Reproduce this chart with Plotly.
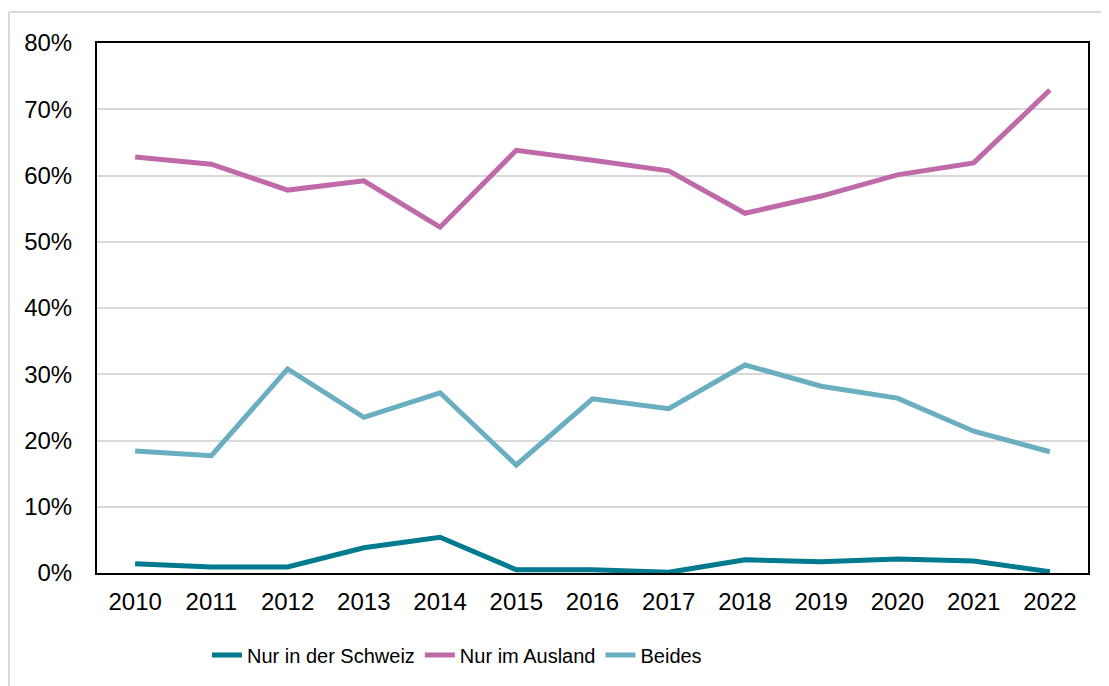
import plotly.graph_objects as go

years = [2010, 2011, 2012, 2013, 2014, 2015, 2016, 2017, 2018, 2019, 2020, 2021, 2022]
nur_schweiz = [1.4, 0.9, 0.9, 3.8, 5.4, 0.5, 0.5, 0.1, 2.0, 1.7, 2.1, 1.8, 0.2]
nur_ausland = [62.8, 61.7, 57.8, 59.2, 52.2, 63.8, 62.3, 60.7, 54.3, 56.9, 60.1, 61.9, 72.9]
beides = [18.4, 17.7, 30.8, 23.5, 27.2, 16.3, 26.3, 24.8, 31.4, 28.2, 26.4, 21.4, 18.3]
y_ticks = [0, 10, 20, 30, 40, 50, 60, 70, 80]
y_tick_labels = [f"{v}%" for v in y_ticks]

series = [
    ("Nur in der Schweiz", nur_schweiz, "#007A8F"),
    ("Nur im Ausland", nur_ausland, "#BF69A9"),
    ("Beides", beides, "#6AAFC1"),
]

fig = go.Figure()
for name, vals, col in series:
    fig.add_trace(go.Scatter(x=years, y=vals, name=name, mode="lines",
                             line=dict(color=col, width=5), cliponaxis=False))

# page is offset by the default 8px body margin
OFF = 8
W, H = 1109, 686
L, T = 97 - OFF, 43 - OFF
R = W - (1088 - OFF)
B = H - (573 - OFF)
pw, ph = W - L - R, H - T - B

def px_x(x):
    return (x - OFF - L) / pw

def px_y(y):
    return (H - B - (y - OFF)) / ph

fig.update_layout(
    width=W, height=H,
    margin=dict(l=L, r=R, t=T, b=B, autoexpand=False),
    paper_bgcolor="white", plot_bgcolor="white",
    font=dict(family="Liberation Sans, Arial, sans-serif", color="black", size=24),
    showlegend=True,
    legend=dict(orientation="h", x=px_x(207), xanchor="left", y=px_y(655), yanchor="middle",
                font=dict(family="Liberation Sans, Arial, sans-serif", size=20),
                bgcolor="rgba(0,0,0,0)"),
    xaxis=dict(range=[2009.5, 2022.5], tickvals=years, ticktext=[str(y) for y in years],
               showgrid=False, showline=True, mirror=True, linecolor="black", linewidth=2,
               ticks="", zeroline=False, fixedrange=True, ticklabelstandoff=6),
    yaxis=dict(range=[0, 80], tickvals=y_ticks, ticktext=y_tick_labels,
               showgrid=True, gridcolor="#D9D9D9", gridwidth=2,
               showline=True, mirror=True, linecolor="black", linewidth=2,
               ticks="", zeroline=False, fixedrange=True, ticklabelstandoff=18),
    shapes=[
        dict(type="line", xref="paper", yref="paper", x0=px_x(9), x1=px_x(W + 20),
             y0=px_y(12), y1=px_y(12), line=dict(color="#D9D9D9", width=2), layer="below"),
        dict(type="line", xref="paper", yref="paper", x0=px_x(9), x1=px_x(9),
             y0=px_y(12), y1=px_y(H + 20), line=dict(color="#D9D9D9", width=2), layer="below"),
    ],
)

fig.write_html("out.html")
